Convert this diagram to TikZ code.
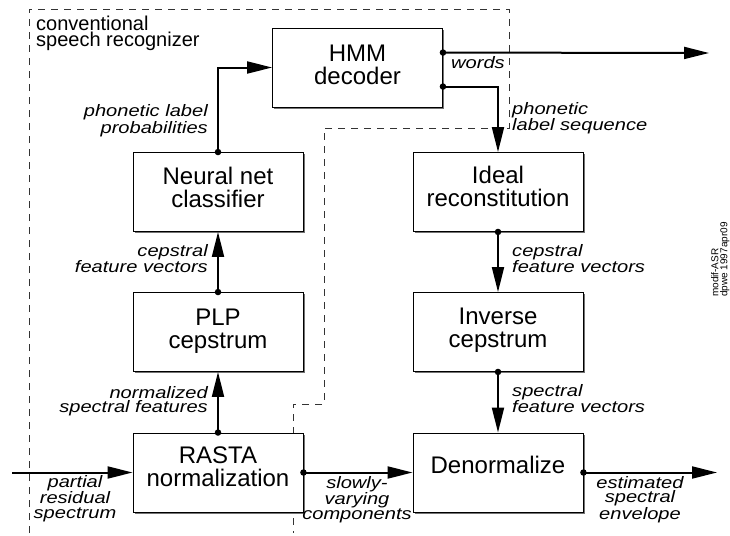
\documentclass[tikz,border=0pt]{standalone}
\usepackage{fontspec}
\setmainfont{Liberation Sans}
\newfontfamily\lblfont[FakeStretch=1.21]{Liberation Sans}
\usetikzlibrary{arrows.meta,shadows,calc}
\newcommand\bxt[2]{\parbox[c][79pt][t]{170pt}{\centering\noindent\rule{0pt}{#1}#2\par}}
\begin{document}
\begin{tikzpicture}[x=1pt,y=-1pt,
  blk/.style={draw, line width=0.9pt, fill=white, inner sep=0pt,
    font=\fontsize{24}{23}\selectfont,
    drop shadow={shadow xshift=1.8pt, shadow yshift=-1.8pt, fill=black!55, opacity=1}},
  lbl/.style={font=\lblfont\fontsize{16.6}{14.5}\selectfont\itshape, inner sep=0pt},
  arr/.style={line width=2pt, -{Triangle[length=25pt,width=12pt]}},
  dot/.style={circle, fill=black, inner sep=0pt, minimum size=6.5pt},
  dsh/.style={line width=0.8pt, dash pattern=on 7pt off 6pt, black!80}]
\useasboundingbox (0,0) rectangle (730,535);

% dashed boundary of the conventional recognizer
\draw[dsh] (29,533) -- (29,9) -- (509,9) -- (509,128) -- (324,128) -- (324,404) -- (293,404) -- (293,533);

% blocks
\node[blk] (hmm) at (357.5,67.5) {\bxt{33pt}{HMM\\decoder}};
\node[blk] (nn) at (218,192) {\bxt{31.5pt}{Neural net\\classifier}};
\node[blk] (ideal) at (498,192) {\bxt{30.5pt}{Ideal\\reconstitution}};
\node[blk] (plp) at (218,332) {\bxt{32.5pt}{PLP\\cepstrum}};
\node[blk] (inv) at (498,332) {\bxt{31.5pt}{Inverse\\cepstrum}};
\node[blk] (rasta) at (218,472.5) {\bxt{30.5pt}{RASTA\\normalization}};
\node[blk] (den) at (498,472.5) {\bxt{40pt}{Denormalize}};

% connectors
\node[dot] (dn) at (nn.north) {};
\draw[arr] (dn.center) |- (hmm.west);
\node[dot] (dw) at ([yshift=-25pt]hmm.north east) {};
\coordinate (wend) at (709,53);
\draw[arr] (dw.center) -- (wend);
\node[dot] (dp) at ([yshift=-59pt]hmm.north east) {};
\draw[arr] (dp.center) -| (ideal.north);
\node[dot] (di) at (ideal.south) {};
\draw[arr] (di.center) -- (inv.north);
\node[dot] (dv) at (inv.south) {};
\draw[arr] (dv.center) -- (den.north);
\node[dot] (dr) at (rasta.north) {};
\draw[arr] (dr.center) -- (plp.south);
\node[dot] (dl) at (plp.north) {};
\draw[arr] (dl.center) -- (nn.south);
\coordinate (in) at (12,472.5);
\draw[arr] (in) -- (rasta.west);
\node[dot] (drs) at (rasta.east) {};
\draw[arr] (drs.center) -- (den.west);
\node[dot] (dd) at (den.east) {};
\coordinate (out) at (717,472.5);
\draw[arr] (dd.center) -- (out);

% labels (anchor = baseline of last line)
\node[inner sep=0pt, font=\fontsize{20}{16.5}\selectfont, align=left, anchor=base west] (t0) at (36,46.5) {conventional\\speech recognizer};
\node[lbl, align=right, anchor=base east] (t1) at (208,133) {phonetic label\\probabilities};
\node[lbl, anchor=base west] (t2) at (451,68) {words};
\node[lbl, align=left, anchor=base west] (t3) at (512,130.5) {phonetic\\label sequence};
\node[lbl, align=right, anchor=base east] (t4) at (208,272.5) {cepstral\\feature vectors};
\node[lbl, align=left, anchor=base west] (t5) at (512,272.5) {cepstral\\feature vectors};
\node[lbl, align=right, anchor=base east] (t6) at (208,412.5) {normalized\\spectral features};
\node[lbl, align=left, anchor=base west] (t7) at (512,412.5) {spectral\\feature vectors};
\node[lbl, align=center, anchor=base] (t8) at (75,518) {partial\\residual\\spectrum};
\node[lbl, align=center, anchor=base] (t9) at (357,519) {slowly-\\varying\\components};
\node[lbl, align=center, anchor=base] (t10) at (640,519) {estimated\\spectral\\envelope};
\node[font=\fontsize{10}{9}\selectfont, rotate=90, align=left, anchor=north west, inner sep=0pt] (t11) at (711,297) {modif-ASR\\dpwe 1997apr09};
\end{tikzpicture}
\end{document}
